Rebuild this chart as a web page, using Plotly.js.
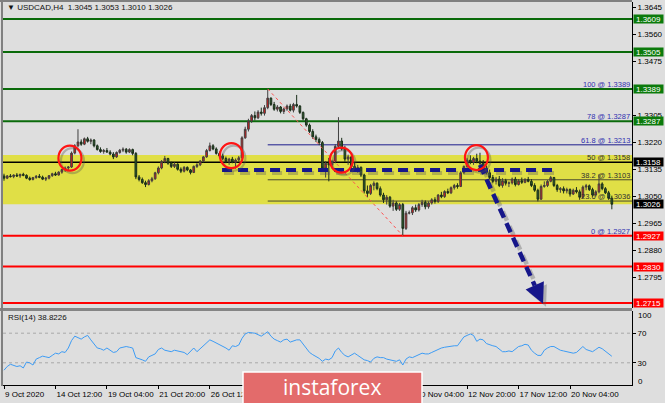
<!DOCTYPE html>
<html><head><meta charset="utf-8">
<script src="https://cdn.plot.ly/plotly-3.0.1.min.js"></script>
<style>html,body{margin:0;padding:0;background:#dedede;overflow:hidden}#chart{width:665px;height:403px}</style>
</head><body><div id="chart"></div>
<script>
// ---------- DATA ----------
const barOpen = [
1.3115,1.3108,1.3115,1.3113,1.3118,1.3115,1.3120,1.3117,1.3108,1.3104,
1.3110,1.3114,1.3111,1.3105,1.3108,1.3116,1.3122,1.3118,1.3127,1.3135,
1.3140,1.3143,1.3187,1.3210,1.3222,1.3215,1.3232,1.3224,1.3228,1.3210,
1.3198,1.3192,1.3195,1.3190,1.3184,1.3175,1.3189,1.3196,1.3199,1.3190,
1.3198,1.3186,1.3112,1.3104,1.3094,1.3088,1.3100,1.3106,1.3125,1.3140,
1.3160,1.3170,1.3155,1.3145,1.3152,1.3136,1.3130,1.3142,1.3134,1.3126,
1.3145,1.3150,1.3162,1.3175,1.3195,1.3210,1.3200,1.3186,1.3178,1.3170,
1.3160,1.3168,1.3158,1.3165,1.3172,1.3235,1.3262,1.3288,1.3305,1.3298,
1.3316,1.3312,1.3330,1.3360,1.3340,1.3325,1.3332,1.3318,1.3326,1.3335,
1.3322,1.3340,1.3335,1.3315,1.3295,1.3275,1.3255,1.3238,1.3230,1.3220,
1.3140,1.3155,1.3150,1.3160,1.3208,1.3225,1.3200,1.3168,1.3175,1.3145,
1.3135,1.3142,1.3118,1.3068,1.3060,1.3085,1.3092,1.3075,1.3055,1.3040,
1.3048,1.3020,1.3030,1.3010,1.3025,1.2950,1.2998,1.2999,1.3015,1.3008,
1.3025,1.3032,1.3018,1.3030,1.3040,1.3035,1.3055,1.3050,1.3066,1.3062,
1.3078,1.3085,1.3082,1.3125,1.3145,1.3165,1.3158,1.3170,1.3162,1.3155,
1.3140,1.3125,1.3110,1.3098,1.3105,1.3085,1.3100,1.3092,1.3093,1.3105,
1.3088,1.3100,1.3095,1.3104,1.3098,1.3085,1.3070,1.3042,1.3082,1.3085,
1.3098,1.3110,1.3085,1.3072,1.3075,1.3068,1.3072,1.3058,1.3070,1.3065,
1.3048,1.3080,1.3084,1.3072,1.3055,1.3065,1.3090,1.3075,1.3062,1.3045];
const barHigh = [
1.3122,1.3118,1.3121,1.3120,1.3124,1.3122,1.3125,1.3120,1.3113,1.3112,
1.3118,1.3121,1.3116,1.3112,1.3118,1.3125,1.3128,1.3130,1.3138,1.3145,
1.3146,1.3192,1.3215,1.3262,1.3230,1.3236,1.3238,1.3233,1.3231,1.3214,
1.3205,1.3200,1.3203,1.3196,1.3190,1.3192,1.3200,1.3205,1.3203,1.3202,
1.3201,1.3190,1.3118,1.3110,1.3100,1.3105,1.3112,1.3128,1.3145,1.3165,
1.3178,1.3172,1.3160,1.3158,1.3155,1.3142,1.3146,1.3145,1.3137,1.3148,
1.3155,1.3165,1.3178,1.3200,1.3220,1.3215,1.3205,1.3192,1.3185,1.3176,
1.3172,1.3175,1.3170,1.3178,1.3240,1.3270,1.3295,1.3310,1.3318,1.3322,
1.3330,1.3338,1.3389,1.3362,1.3348,1.3338,1.3335,1.3330,1.3340,1.3342,
1.3345,1.3370,1.3338,1.3318,1.3298,1.3280,1.3262,1.3245,1.3236,1.3225,
1.3162,1.3172,1.3165,1.3215,1.3300,1.3235,1.3210,1.3182,1.3178,1.3158,
1.3150,1.3145,1.3122,1.3085,1.3090,1.3098,1.3095,1.3082,1.3062,1.3055,
1.3052,1.3040,1.3035,1.3030,1.3030,1.3005,1.3006,1.3020,1.3025,1.3030,
1.3040,1.3038,1.3035,1.3045,1.3048,1.3058,1.3065,1.3070,1.3075,1.3082,
1.3090,1.3092,1.3130,1.3148,1.3172,1.3180,1.3175,1.3185,1.3188,1.3165,
1.3148,1.3135,1.3118,1.3112,1.3115,1.3108,1.3106,1.3098,1.3110,1.3112,
1.3105,1.3110,1.3108,1.3112,1.3105,1.3092,1.3075,1.3088,1.3098,1.3102,
1.3115,1.3112,1.3090,1.3080,1.3082,1.3078,1.3076,1.3075,1.3080,1.3072,
1.3085,1.3090,1.3088,1.3078,1.3070,1.3120,1.3095,1.3080,1.3068,1.3053];
const barLow = [
1.3100,1.3105,1.3110,1.3108,1.3112,1.3109,1.3114,1.3105,1.3100,1.3101,
1.3106,1.3108,1.3102,1.3099,1.3104,1.3112,1.3115,1.3116,1.3122,1.3128,
1.3133,1.3140,1.3183,1.3205,1.3210,1.3212,1.3220,1.3215,1.3205,1.3195,
1.3188,1.3185,1.3188,1.3180,1.3168,1.3172,1.3185,1.3190,1.3185,1.3187,
1.3180,1.3105,1.3098,1.3090,1.3080,1.3085,1.3095,1.3103,1.3120,1.3136,
1.3155,1.3150,1.3140,1.3140,1.3132,1.3124,1.3126,1.3130,1.3120,1.3124,
1.3140,1.3146,1.3158,1.3172,1.3192,1.3196,1.3182,1.3172,1.3165,1.3155,
1.3150,1.3155,1.3138,1.3160,1.3170,1.3232,1.3255,1.3282,1.3290,1.3294,
1.3305,1.3305,1.3325,1.3335,1.3320,1.3318,1.3312,1.3310,1.3320,1.3318,
1.3315,1.3330,1.3310,1.3290,1.3270,1.3250,1.3232,1.3222,1.3212,1.3130,
1.3110,1.3098,1.3138,1.3155,1.3200,1.3195,1.3160,1.3150,1.3138,1.3128,
1.3125,1.3112,1.3060,1.3048,1.3055,1.3070,1.3070,1.3050,1.3030,1.3025,
1.3015,1.3005,1.3005,1.3005,1.2927,1.2945,1.2994,1.2992,1.3002,1.3003,
1.3018,1.3010,1.3012,1.3025,1.3028,1.3030,1.3045,1.3046,1.3058,1.3058,
1.3072,1.3075,1.3080,1.3120,1.3140,1.3152,1.3150,1.3155,1.3150,1.3135,
1.3120,1.3105,1.3092,1.3088,1.3080,1.3078,1.3085,1.3080,1.3088,1.3082,
1.3085,1.3090,1.3092,1.3095,1.3080,1.3065,1.3035,1.3040,1.3078,1.3080,
1.3095,1.3080,1.3065,1.3062,1.3060,1.3060,1.3050,1.3055,1.3060,1.3040,
1.3045,1.3070,1.3068,1.3050,1.3050,1.3060,1.3070,1.3058,1.3040,1.3010];
const barClose = [
1.3108,1.3115,1.3113,1.3118,1.3115,1.3120,1.3117,1.3108,1.3104,1.3110,
1.3114,1.3111,1.3105,1.3108,1.3116,1.3122,1.3118,1.3127,1.3135,1.3140,
1.3143,1.3187,1.3210,1.3222,1.3215,1.3232,1.3224,1.3228,1.3210,1.3198,
1.3192,1.3195,1.3190,1.3184,1.3175,1.3189,1.3196,1.3199,1.3190,1.3198,
1.3186,1.3112,1.3104,1.3094,1.3088,1.3100,1.3106,1.3125,1.3140,1.3160,
1.3170,1.3155,1.3145,1.3152,1.3136,1.3130,1.3142,1.3134,1.3126,1.3145,
1.3150,1.3162,1.3175,1.3195,1.3210,1.3200,1.3186,1.3178,1.3170,1.3160,
1.3168,1.3158,1.3165,1.3172,1.3235,1.3262,1.3288,1.3305,1.3298,1.3316,
1.3312,1.3330,1.3360,1.3340,1.3325,1.3332,1.3318,1.3326,1.3335,1.3322,
1.3340,1.3335,1.3315,1.3295,1.3275,1.3255,1.3238,1.3230,1.3220,1.3140,
1.3155,1.3150,1.3160,1.3208,1.3225,1.3200,1.3168,1.3175,1.3145,1.3135,
1.3142,1.3118,1.3068,1.3060,1.3085,1.3092,1.3075,1.3055,1.3040,1.3048,
1.3020,1.3030,1.3010,1.3025,1.2950,1.2998,1.2999,1.3015,1.3008,1.3025,
1.3032,1.3018,1.3030,1.3040,1.3035,1.3055,1.3050,1.3066,1.3062,1.3078,
1.3085,1.3082,1.3125,1.3145,1.3165,1.3158,1.3170,1.3162,1.3155,1.3140,
1.3125,1.3110,1.3098,1.3105,1.3085,1.3100,1.3092,1.3093,1.3105,1.3088,
1.3100,1.3095,1.3104,1.3098,1.3085,1.3070,1.3042,1.3082,1.3085,1.3098,
1.3110,1.3085,1.3072,1.3075,1.3068,1.3072,1.3058,1.3070,1.3065,1.3048,
1.3080,1.3084,1.3072,1.3055,1.3065,1.3090,1.3075,1.3062,1.3045,1.3026];
const rsiValues = [
20,25,28,26,25,26,23,31,30,27,
35,37,39,38,37,40,43,42,45,44,
50,60,66,64,62,65,67,61,55,50,
49,47,50,47,44,45,50,51,52,51,
50,37,36,34,32,38,40,42,48,50,
47,46,45,47,46,45,44,41,45,50,
45,49,53,57,61,59,57,55,52,50,
47,53,52,54,63,69,71,71,70,68,
66,69,72,66,62,60,58,61,62,58,
60,61,61,55,50,44,41,39,36,32,
35,34,37,46,50,44,40,38,41,43,
40,37,34,33,31,36,38,37,37,35,
34,33,32,34,27,35,38,37,39,40,
43,42,42,44,46,49,50,51,52,52,
53,53,59,65,67,69,67,59,62,61,
56,54,53,52,48,45,45,46,45,48,
52,53,55,54,47,43,40,40,47,50,
52,52,49,47,46,45,44,43,44,48,
52,48,46,45,48,51,49,46,43,38.8226];
// time labels visible in the picture (the ones under the logo are hidden there)
const timeTickIndex = [0,16,32,48,64,128,144,160,176];
const timeTickText = ['9 Oct 2020','14 Oct 12:00','19 Oct 04:00','21 Oct 20:00','26 Oct 12:00','10 Nov 04:00','12 Nov 20:00','17 Nov 12:00','20 Nov 04:00'];
const priceTicks = [1.3645,1.3560,1.3475,1.3305,1.3220,1.3135,1.3050,1.2965,1.2880,1.2795];
const rsiTicks = [30,70];
const greenLevels = [1.3609,1.3505,1.3389,1.3287];
const redLevels = [1.2927,1.2830,1.2715];
const blackLevels = [1.3158,1.3026];
const zoneTop = 1.3181, zoneBottom = 1.3026;
const fibNames = ['100','78','61.8','50','38.2','23.6','0'];
const fibPrices = [1.3389,1.3287,1.3213,1.3158,1.3103,1.3036,1.2927];
const fibHighIndex = 82, fibLowIndex = 124;
const dashedLevel = 1.3134, dashedFrom = 67.8, dashedTo = 170.4;
const circleIdx = [20.5,70.7,104.9,146.9];
const circlePrice = [1.3171,1.3179,1.3165,1.3173];
const arrowFrom = {i:148, p:1.3150}, arrowTo = {i:167.6, p:1.2713};
const headerText = '\u25BC USDCAD,H4  1.3045 1.3053 1.3010 1.3026';
const rsiText = 'RSI(14) 38.8226';

// ---------- GEOMETRY ----------
const plotL=3, plotR=632, plotT=2, plotB=385;
const priceTopPx=2, priceBotPx=308, rsiTopPx=311;
const xMin=-0.311, xMax=195.27;
const pMin=1.26994, pMax=1.36625;
const pxX = i => plotL+(i-xMin)/(xMax-xMin)*(plotR-plotL);
const pxY = p => priceBotPx-(p-pMin)/(pMax-pMin)*(priceBotPx-priceTopPx);
const paperX = px => (px-plotL)/(plotR-plotL);
const paperY = py => (plotB-py)/(plotB-plotT);

const FONT = 'Liberation Sans, Arial, sans-serif';
const idx = barClose.map((_, k) => k);
const shapes = [];
const annotations = [];

// yellow zone
shapes.push({type:'rect', layer:'below', xref:'paper', x0:0, x1:1, yref:'y', y0:zoneBottom, y1:zoneTop, fillcolor:'#e0df46', line:{width:0}});
// full-width levels
greenLevels.forEach(v => shapes.push({type:'line', layer:'below', xref:'paper', x0:0, x1:1, yref:'y', y0:v, y1:v, line:{color:'#0a6a0a', width:2}}));
redLevels.forEach(v => shapes.push({type:'line', layer:'below', xref:'paper', x0:0, x1:1, yref:'y', y0:v, y1:v, line:{color:'#ff0000', width:2}}));
shapes.push({type:'line', layer:'below', xref:'paper', x0:0, x1:1, yref:'y', y0:blackLevels[0], y1:blackLevels[0], line:{color:'#000', width:1.5}});
// fib partial lines
const fibLineColor = {'61.8':'#1c1c8c','38.2':'#4a4a30','23.6':'#4a4a30'};
fibNames.forEach((n,k) => { if (fibLineColor[n]) shapes.push({type:'line', layer:'below', xref:'x', x0:fibHighIndex, x1:xMax, yref:'y', y0:fibPrices[k], y1:fibPrices[k], line:{color:fibLineColor[n], width:1}}); });
// fib texts
const fibTextColor = {'100':'#3030b0','78':'#3030b0','61.8':'#3030b0','50':'#303030','38.2':'#303030','23.6':'#303030','0':'#3030b0'};
fibNames.forEach((n,k) => annotations.push({xref:'paper', x:paperX(631), xanchor:'right', yref:'y', y:fibPrices[k], yanchor:'bottom', yshift:-1, text:n+' @ '+fibPrices[k].toFixed(4), showarrow:false, font:{family:FONT, size:7.5, color:fibTextColor[n]}, borderpad:0}));
// fib trend line (red dotted)
shapes.push({type:'line', layer:'above', xref:'x', yref:'y', x0:fibHighIndex, y0:fibPrices[0], x1:fibLowIndex, y1:fibPrices[6], line:{color:'#ff5050', width:1, dash:'3px,3px'}});

// blue dashed line with shadow
const dx0 = pxX(dashedFrom), dx1 = pxX(dashedTo), dy = pxY(dashedLevel);
shapes.push({type:'line', layer:'above', xref:'paper', yref:'paper', x0:paperX(dx0+2), x1:paperX(dx1+2), y0:paperY(dy+3), y1:paperY(dy+3), line:{color:'rgba(90,90,90,0.35)', width:4, dash:'10px,6px'}});
shapes.push({type:'line', layer:'above', xref:'paper', yref:'paper', x0:paperX(dx0), x1:paperX(dx1), y0:paperY(dy), y1:paperY(dy), line:{color:'#16168a', width:4, dash:'10px,6px'}});

// arrow
const ax0=pxX(arrowFrom.i), ay0=pxY(arrowFrom.p), ax1=pxX(arrowTo.i), ay1=pxY(arrowTo.p);
const len=Math.hypot(ax1-ax0, ay1-ay0), ux=(ax1-ax0)/len, uy=(ay1-ay0)/len;
const headL=20, headW=10;
const bx=ax1-ux*headL, by=ay1-uy*headL;
const c1x=bx-uy*headW, c1y=by+ux*headW, c2x=bx+uy*headW, c2y=by-ux*headW;
[[3,'rgba(90,90,90,0.35)'],[0,'#16168a']].forEach(([o,col]) => {
  shapes.push({type:'line', layer:'above', xref:'paper', yref:'paper', x0:paperX(ax0+o), y0:paperY(ay0+o), x1:paperX(bx+o), y1:paperY(by+o), line:{color:col, width:4.5, dash:'10px,6px'}});
  const P=(x,y)=>paperX(x+o)+','+paperY(y+o);
  shapes.push({type:'path', layer:'above', xref:'paper', yref:'paper', path:'M'+P(ax1,ay1)+' L'+P(c1x,c1y)+' L'+P(c2x,c2y)+' Z', fillcolor:col, line:{width:0}});
});

// red circles with shadow
circleIdx.forEach((ci,k) => {
  const cx=pxX(ci), cy=pxY(circlePrice[k]);
  [[2.5,'rgba(80,80,80,0.35)'],[0,'#ff1414']].forEach(([o,col]) => shapes.push({type:'circle', layer:'above', xref:'paper', yref:'paper', x0:paperX(cx-11.5+o), x1:paperX(cx+11.5+o), y0:paperY(cy+12.5+o), y1:paperY(cy-12.5+o), line:{color:col, width:2.2}}));
});

// RSI levels
[70,30].forEach(v => shapes.push({type:'line', layer:'below', xref:'paper', x0:0, x1:1, yref:'y2', y0:v, y1:v, line:{color:'#a8a8a8', width:1, dash:'dot'}}));

// frame
shapes.push({type:'rect', layer:'above', xref:'paper', yref:'paper', x0:paperX(0), x1:paperX(632), y0:paperY(311), y1:paperY(308), fillcolor:'#858585', line:{width:0}});
shapes.push({type:'line', layer:'above', xref:'paper', yref:'paper', x0:paperX(2), x1:paperX(2), y0:paperY(0), y1:paperY(386), line:{color:'#808080', width:2}});
shapes.push({type:'line', layer:'above', xref:'paper', yref:'paper', x0:paperX(0), x1:paperX(632), y0:paperY(1), y1:paperY(1), line:{color:'#808080', width:2}});

// level boxes on price axis
const boxes = greenLevels.map(v=>[v,'#0b7a0b']).concat(blackLevels.map(v=>[v,'#000000'])).concat(redLevels.map(v=>[v,'#ff0000']));
boxes.forEach(([v,col]) => annotations.push({xref:'paper', x:paperX(633), xanchor:'left', yref:'y', y:v, yanchor:'middle', text:v.toFixed(4), showarrow:false, bgcolor:col, borderpad:0, width:29, height:8, font:{family:FONT, size:8, color:'#fff'}}));

// header & RSI labels
annotations.push({xref:'paper', x:paperX(5), xanchor:'left', yref:'paper', y:paperY(8), yanchor:'middle', text:headerText, showarrow:false, font:{family:FONT, size:8, color:'#111'}});
annotations.push({xref:'paper', x:paperX(6), xanchor:'left', yref:'paper', y:paperY(317), yanchor:'middle', text:rsiText, showarrow:false, font:{family:FONT, size:8, color:'#111'}});
[['100',315],['0',381]].forEach(([t,py]) => annotations.push({xref:'paper', x:paperX(636), xanchor:'left', yref:'paper', y:paperY(py), yanchor:'middle', text:t, showarrow:false, font:{family:FONT, size:8, color:'#000'}}));

// logo
shapes.push({type:'rect', layer:'above', xref:'paper', yref:'paper', x0:paperX(243), x1:paperX(422), y0:paperY(410), y1:paperY(372), fillcolor:'#e36b6b', line:{color:'#ffffff', width:1.5}});
annotations.push({xref:'paper', x:paperX(332), xanchor:'center', yref:'paper', y:paperY(387), yanchor:'middle', text:'instaforex', showarrow:false, font:{family:'Open Sans, sans-serif', size:21, color:'#ffffff'}});

const traces = [
  {type:'candlestick', x:idx, open:barOpen, high:barHigh, low:barLow, close:barClose, xaxis:'x', yaxis:'y',
   increasing:{line:{color:'#404040', width:1}, fillcolor:'#e01818'},
   decreasing:{line:{color:'#1b2e1b', width:1}, fillcolor:'#2e632e'},
   whiskerwidth:0, hoverinfo:'skip'},
  {type:'scatter', mode:'lines', x:idx, y:rsiValues, xaxis:'x', yaxis:'y2', line:{color:'#3d9cf5', width:1}, hoverinfo:'skip'}
];

const axFont = {family:FONT, size:8, color:'#000'};
const layout = {
  width:665, height:403, margin:{l:3, r:33, t:2, b:18}, boxgap:0.25,
  paper_bgcolor:'#dedede', plot_bgcolor:'#dedede', showlegend:false,
  xaxis:{range:[xMin,xMax], anchor:'y2', showgrid:false, zeroline:false, showline:true, linecolor:'#000', linewidth:1,
    ticks:'outside', ticklen:3, tickcolor:'#000', tickvals:timeTickIndex, ticktext:timeTickText, tickfont:axFont,
    tickangle:0, ticklabelposition:'outside right', ticklabelstandoff:1, rangeslider:{visible:false}},
  yaxis:{domain:[paperY(priceBotPx),1], range:[pMin,pMax], side:'right', anchor:'x', showgrid:false, zeroline:false,
    showline:true, linecolor:'#000', linewidth:1, ticks:'outside', ticklen:3, tickcolor:'#000',
    tickvals:priceTicks, ticktext:priceTicks.map(v=>v.toFixed(4)), tickfont:axFont},
  yaxis2:{domain:[0,paperY(rsiTopPx)], range:[0,100], side:'right', anchor:'x', showgrid:false, zeroline:false,
    showline:true, linecolor:'#000', linewidth:1, ticks:'outside', ticklen:3, tickcolor:'#000', tickvals:rsiTicks, tickfont:axFont},
  shapes:shapes, annotations:annotations
};
Plotly.newPlot('chart', traces, layout, {displayModeBar:false, staticPlot:true});
</script></body></html>
